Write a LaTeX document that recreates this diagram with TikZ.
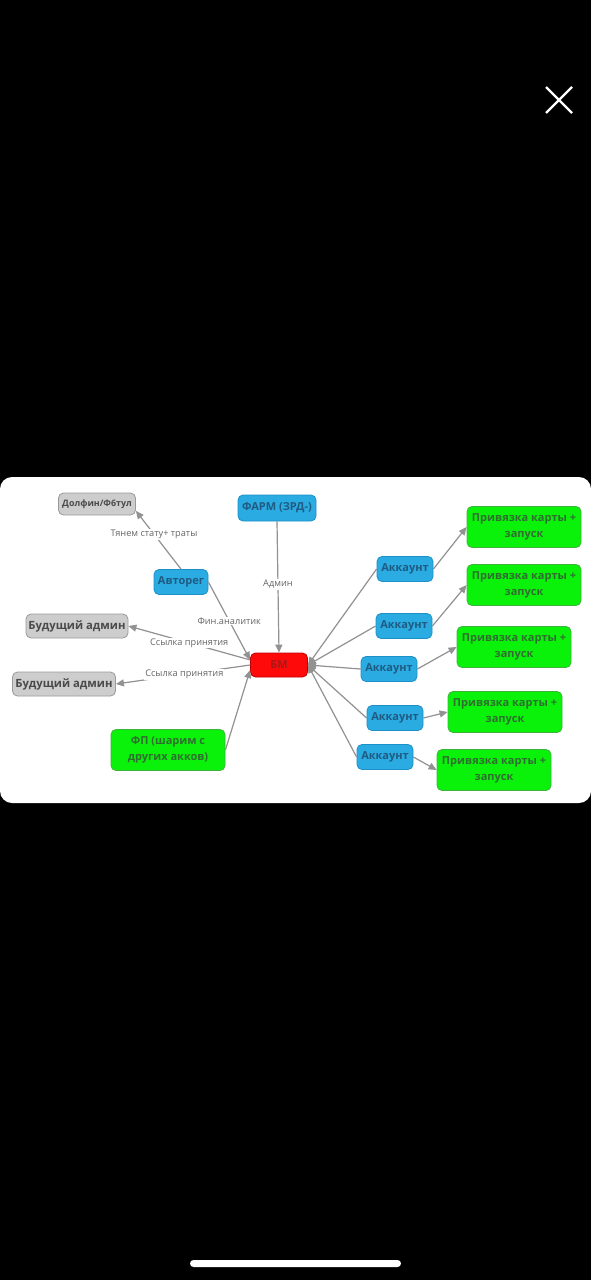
\documentclass[tikz,border=0pt]{standalone}
\usepackage{fontspec}
\setmainfont{Open Sans}
\usetikzlibrary{arrows.meta}
\definecolor{skyb}{HTML}{2AABE2}
\definecolor{skybline}{HTML}{1E90C8}
\definecolor{skybtext}{HTML}{1F5B82}
\definecolor{limeg}{HTML}{0AF20A}
\definecolor{limegline}{HTML}{3CB43C}
\definecolor{limegtext}{HTML}{2F6E2F}
\definecolor{bmred}{HTML}{FF0A0A}
\definecolor{bmredline}{HTML}{C00000}
\definecolor{bmredtext}{HTML}{A81818}
\definecolor{greyfill}{HTML}{CDCDCD}
\definecolor{greyline}{HTML}{9A9A9A}
\definecolor{greytext}{HTML}{4A4A4A}
\definecolor{linkgrey}{HTML}{929292}
\definecolor{lblgrey}{HTML}{666666}

\begin{document}
\begin{tikzpicture}[x=1pt,y=-1pt,>={Triangle[length=8pt,width=7pt]},
  box/.style={draw,rounded corners=5pt,line width=0.8pt,inner sep=2pt,align=center,
    font=\bfseries\fontsize{11}{16}\selectfont},
  bluebox/.style={box,fill=skyb,draw=skybline,text=skybtext,minimum height=25pt},
  greenbox/.style={box,fill=limeg,draw=limegline,text=limegtext,minimum width=114pt,minimum height=41pt},
  greybox/.style={box,fill=greyfill,draw=greyline,text=greytext,minimum height=24pt},
  link/.style={->,draw=linkgrey,fill=linkgrey,line width=1.2pt},
  lbl/.style={fill=white,inner sep=1pt,text=lblgrey,font=\fontsize{9.2}{10}\selectfont}]
  % phone screen and card
  \fill[black] (0,0) rectangle (591,1280);
  \fill[white,rounded corners=12pt] (0,477) rectangle (591,803);
  \draw[white,line width=2.2pt] (546,87) -- (572,113) (572,87) -- (546,113);
  \fill[white,rounded corners=3.5pt] (190,1260) rectangle (401,1267);
  % centre node
  \node[box,fill=bmred,draw=bmredline,text=bmredtext,minimum width=57pt,minimum height=24pt] (bm) at (279,665) {БМ};
  % left side
  \node[greybox,minimum width=77pt,minimum height=22pt,font=\bfseries\fontsize{8.9}{10}\selectfont] (dolphin) at (97,504) {Долфин/Ф6тул};
  \node[bluebox,minimum width=78pt,minimum height=26pt] (farm) at (277,508) {ФАРМ (ЗРД-)};
  \node[bluebox,minimum width=54pt] (autoreg) at (181,582) {Авторег};
  \node[greybox,minimum width=102pt,font=\bfseries\fontsize{11.3}{13}\selectfont] (admA) at (77,626) {Будущий админ};
  \node[greybox,minimum width=103pt,font=\bfseries\fontsize{11.3}{13}\selectfont] (admB) at (64,684) {Будущий админ};
  \node[greenbox] (fp) at (168,750) {ФП (шарим с\\других акков)};
  \draw[link] (autoreg.north) -- (dolphin.-10) node[lbl,pos=0.6] {Тянем стату+ траты};
  \draw[link] (farm.south) -- (bm.north) node[lbl,pos=0.48] {Админ};
  \draw[link] (autoreg.east) -- (bm.170) node[lbl,pos=0.5] {Фин.аналитик};
  \draw[link] (bm.170) -- (admA.east) node[lbl,pos=0.5] {Ссылка принятия};
  \draw[link] (bm.180) -- (admB.east) node[lbl,pos=0.49] {Ссылка принятия};
  \draw[link] (fp.east) -- (bm.190);
  % accounts on the right
  \foreach \i/\ax/\ay/\bx/\by in {1/405/569/524/527, 2/404/626/524/585,
                                  3/389/669/514/647, 4/395/718/505/712, 5/385/757/494/770}
  {
    \node[bluebox,minimum width=56pt] (acc\i) at (\ax,\ay) {Аккаунт};
    \node[greenbox] (bind\i) at (\bx,\by) {Привязка карты +\\запуск};
    \draw[link] (acc\i.west) -- (bm.east);
    \draw[link] (acc\i.east) -- (bind\i.west);
  }
\end{tikzpicture}
\end{document}
